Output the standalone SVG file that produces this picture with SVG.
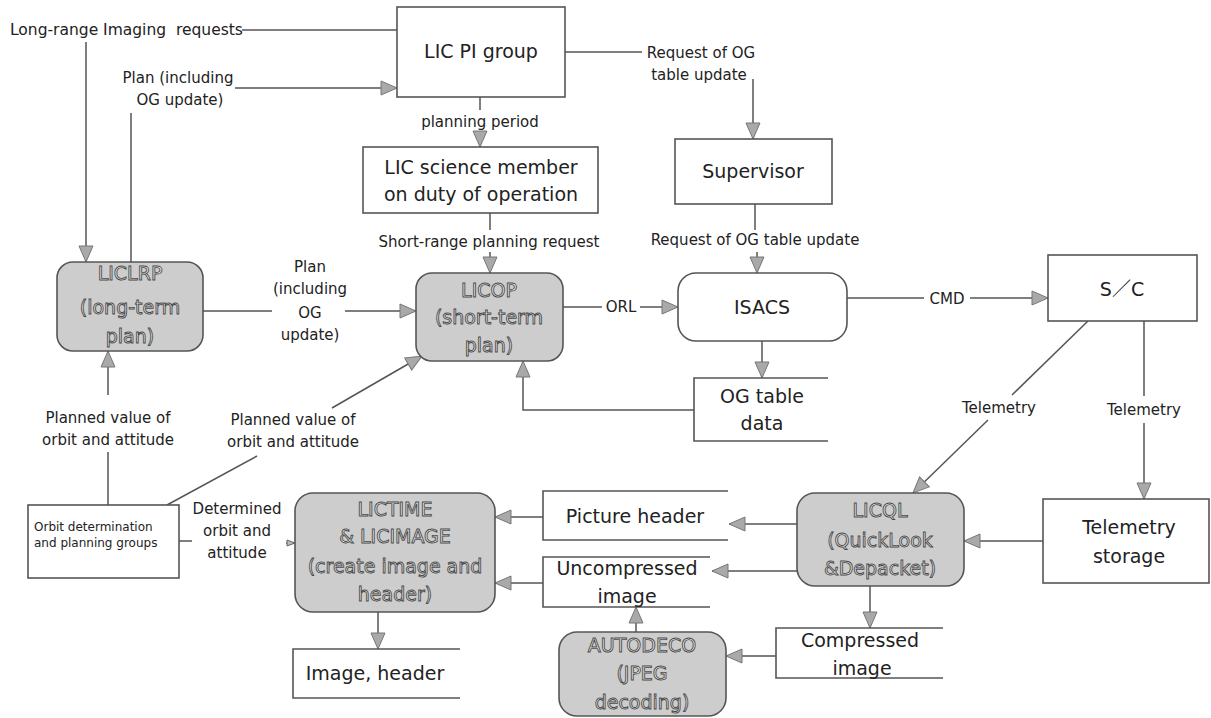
<svg xmlns="http://www.w3.org/2000/svg" width="1211" height="718" viewBox="0 0 1211 718">
  <style>
    text { font-family: "DejaVu Sans", "Noto Sans CJK JP", sans-serif; fill: #222; }
    .box { fill: #fff; stroke: #555; stroke-width: 1.6; }
    .proc { fill: #cdcdcd; stroke: #555; stroke-width: 1.6; }
    .store { fill: none; stroke: #555; stroke-width: 1.6; }
    .pt { fill: #ececec; stroke: #4a4a4a; stroke-width: 0.9; font-size: 19px; text-anchor: middle; }
    .lbl { font-size: 15px; text-anchor: middle; }
    .big { font-size: 19px; text-anchor: middle; }
    .conn line, .conn polyline { stroke: #555; stroke-width: 1.5; fill: none; }
    .a { marker-end: url(#arr); }
  </style>
  <defs>
    <marker id="arr" markerUnits="userSpaceOnUse" markerWidth="18" markerHeight="16" refX="17" refY="8" orient="auto">
      <path d="M1,1 L17,8 L1,15 Z" fill="#a9a9a9" stroke="#777" stroke-width="1"/>
    </marker>
    <marker id="arrs" markerUnits="userSpaceOnUse" markerWidth="10" markerHeight="10" refX="9" refY="5" orient="auto">
      <path d="M1,2 L9,5 L1,8 Z" fill="#bbb" stroke="#666" stroke-width="1"/>
    </marker>
  </defs>

  <rect width="1211" height="718" fill="#fff"/>

  <!-- connectors -->
  <g id="connectors" class="conn">
    <line x1="242" y1="30" x2="397" y2="30"/>
    <line class="a" x1="86" y1="42" x2="86" y2="262"/>
    <line x1="131" y1="263" x2="131" y2="113"/>
    <line class="a" x1="235" y1="88" x2="397" y2="88"/>
    <line x1="480" y1="97" x2="480" y2="110"/>
    <line class="a" x1="480" y1="131" x2="480" y2="147"/>
    <line x1="490" y1="213" x2="490" y2="230"/>
    <line class="a" x1="490" y1="252" x2="490" y2="273"/>
    <line x1="565" y1="52" x2="642" y2="52"/>
    <line class="a" x1="753" y1="79" x2="753" y2="139"/>
    <line x1="755" y1="204" x2="755" y2="230"/>
    <line class="a" x1="757" y1="252" x2="757" y2="273"/>
    <line x1="203" y1="311" x2="272" y2="311"/>
    <line class="a" x1="345" y1="311" x2="416" y2="311"/>
    <line class="a" x1="108" y1="395" x2="108" y2="351"/>
    <line x1="108" y1="452" x2="108" y2="505"/>
    <line x1="167" y1="505" x2="257" y2="456"/>
    <line class="a" x1="332" y1="408" x2="422" y2="356"/>
    <line x1="563" y1="307" x2="602" y2="307"/>
    <line class="a" x1="640" y1="307" x2="678" y2="307"/>
    <line x1="847" y1="298" x2="924" y2="298"/>
    <line class="a" x1="970" y1="298" x2="1048" y2="298"/>
    <line class="a" x1="762" y1="341" x2="762" y2="378"/>
    <polyline class="a" points="694,410 523,410 523,361"/>
    <line x1="1088" y1="321" x2="1012" y2="395"/>
    <line class="a" x1="988" y1="420" x2="913" y2="493"/>
    <line x1="1144" y1="321" x2="1144" y2="396"/>
    <line class="a" x1="1144" y1="423" x2="1144" y2="499"/>
    <line class="a" x1="1043" y1="541" x2="964" y2="541"/>
    <line class="a" x1="797" y1="524" x2="729" y2="524"/>
    <line class="a" x1="797" y1="571" x2="712" y2="571"/>
    <line class="a" x1="870" y1="586" x2="870" y2="628"/>
    <line class="a" x1="776" y1="656" x2="726" y2="656"/>
    <line class="a" x1="636" y1="632" x2="636" y2="607"/>
    <line class="a" x1="543" y1="517" x2="495" y2="517"/>
    <line class="a" x1="543" y1="583" x2="495" y2="583"/>
    <line class="a" x1="378" y1="612" x2="378" y2="649"/>
    <line x1="179" y1="541" x2="192" y2="541"/>
    <line x1="286" y1="543" x2="295" y2="543" marker-end="url(#arrs)"/>
  </g>

  <!-- connector labels -->
  <g id="labels">
    <text x="10" y="35" font-size="15.5" xml:space="preserve">Long-range Imaging  requests</text>
    <text class="lbl" x="178" y="83">Plan (including</text>
    <text class="lbl" x="180" y="105">OG update)</text>
    <text class="lbl" x="480" y="127">planning period</text>
    <text class="lbl" x="489" y="247">Short-range planning request</text>
    <text class="lbl" x="701" y="58">Request of OG</text>
    <text class="lbl" x="699" y="80">table update</text>
    <text class="lbl" x="755" y="245">Request of OG table update</text>
    <text class="lbl" x="310" y="272">Plan</text>
    <text class="lbl" x="310" y="294">(including</text>
    <text class="lbl" x="310" y="318">OG</text>
    <text class="lbl" x="310" y="340">update)</text>
    <text class="lbl" x="621" y="312" font-size="16">ORL</text>
    <text class="lbl" x="947" y="304" font-size="16">CMD</text>
    <text class="lbl" x="108" y="423">Planned value of</text>
    <text class="lbl" x="108" y="445">orbit and attitude</text>
    <text class="lbl" x="293" y="425">Planned value of</text>
    <text class="lbl" x="293" y="447">orbit and attitude</text>
    <text class="lbl" x="999" y="413">Telemetry</text>
    <text class="lbl" x="1144" y="415">Telemetry</text>
    <text class="lbl" x="237" y="514" font-size="16">Determined</text>
    <text class="lbl" x="237" y="536" font-size="16">orbit and</text>
    <text class="lbl" x="237" y="558" font-size="16">attitude</text>
  </g>

  <!-- nodes -->
  <g id="lic-pi-group">
    <rect class="box" x="397" y="7" width="168" height="90"/>
    <text class="big" x="481" y="58">LIC PI group</text>
  </g>
  <g id="lic-science-member">
    <rect class="box" x="363" y="147" width="235" height="66"/>
    <text class="big" x="481" y="174">LIC science member</text>
    <text class="big" x="481" y="201">on duty of operation</text>
  </g>
  <g id="supervisor">
    <rect class="box" x="675" y="139" width="157" height="65"/>
    <text class="big" x="753" y="178">Supervisor</text>
  </g>
  <g id="liclrp">
    <rect class="proc" x="57" y="262" width="146" height="89" rx="16"/>
    <text class="pt" x="130" y="280">LICLRP</text>
    <text class="pt" x="130" y="314">(long-term</text>
    <text class="pt" x="130" y="343">plan)</text>
  </g>
  <g id="licop">
    <rect class="proc" x="416" y="273" width="147" height="88" rx="16"/>
    <text class="pt" x="489" y="297">LICOP</text>
    <text class="pt" x="489" y="324">(short-term</text>
    <text class="pt" x="489" y="352">plan)</text>
  </g>
  <g id="isacs">
    <rect class="box" x="678" y="273" width="169" height="68" rx="18"/>
    <text class="big" x="762" y="314" font-size="21">ISACS</text>
  </g>
  <g id="sc">
    <rect class="box" x="1048" y="255" width="149" height="66"/>
    <text class="big" x="1122" y="296" font-size="21">S／C</text>
  </g>
  <g id="og-table-data">
    <path class="store" d="M828,378 H694 V441 H828"/>
    <text class="big" x="762" y="403">OG table</text>
    <text class="big" x="762" y="430">data</text>
  </g>
  <g id="orbit-determination">
    <rect class="box" x="28" y="505" width="151" height="73"/>
    <text x="34" y="531" font-size="12">Orbit determination</text>
    <text x="34" y="547" font-size="12">and planning groups</text>
  </g>
  <g id="lictime-licimage">
    <rect class="proc" x="295" y="493" width="200" height="119" rx="18"/>
    <text class="pt" x="395" y="516">LICTIME</text>
    <text class="pt" x="395" y="543">&amp; LICIMAGE</text>
    <text class="pt" x="395" y="573">(create image and</text>
    <text class="pt" x="395" y="601">header)</text>
  </g>
  <g id="image-header">
    <path class="store" d="M460,649 H293 V698 H460"/>
    <text class="big" x="375" y="680">Image, header</text>
  </g>
  <g id="picture-header">
    <path class="store" d="M728,491 H543 V540 H728"/>
    <text class="big" x="635" y="523">Picture header</text>
  </g>
  <g id="uncompressed-image">
    <path class="store" d="M710,557 H543 V607 H710"/>
    <text class="big" x="627" y="575">Uncompressed</text>
    <text class="big" x="627" y="603">image</text>
  </g>
  <g id="autodeco">
    <rect class="proc" x="559" y="632" width="167" height="84" rx="18"/>
    <text class="pt" x="642" y="652">AUTODECO</text>
    <text class="pt" x="642" y="680">(JPEG</text>
    <text class="pt" x="642" y="709">decoding)</text>
  </g>
  <g id="compressed-image">
    <path class="store" d="M943,628 H776 V678 H943"/>
    <text class="big" x="860" y="647">Compressed</text>
    <text class="big" x="862" y="675">image</text>
  </g>
  <g id="licql">
    <rect class="proc" x="797" y="493" width="167" height="93" rx="18"/>
    <text class="pt" x="880" y="517">LICQL</text>
    <text class="pt" x="880" y="547">(QuickLook</text>
    <text class="pt" x="880" y="575">&amp;Depacket)</text>
  </g>
  <g id="telemetry-storage">
    <rect class="box" x="1043" y="499" width="166" height="84"/>
    <text class="big" x="1129" y="534">Telemetry</text>
    <text class="big" x="1129" y="563">storage</text>
  </g>
</svg>
